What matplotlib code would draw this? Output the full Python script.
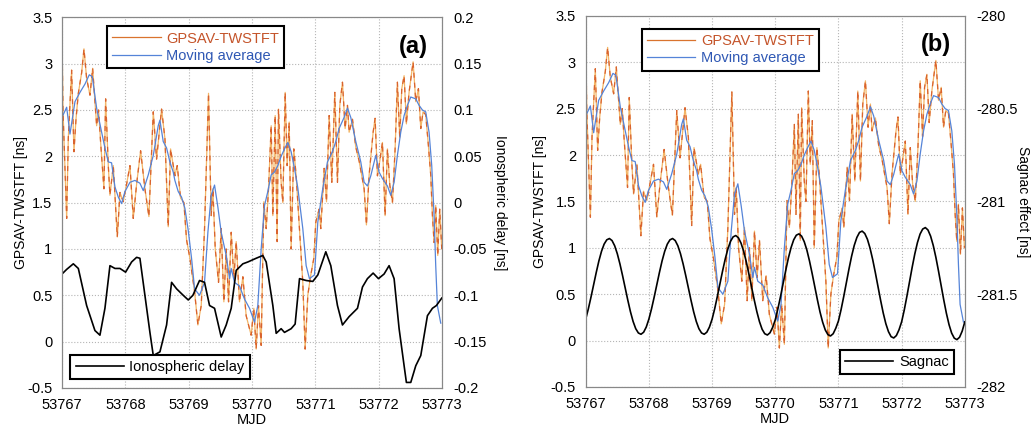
import matplotlib.pyplot as plt
import numpy as np
from matplotlib.ticker import FuncFormatter

plt.rcParams['font.family'] = ['Liberation Sans', 'DejaVu Sans']

# GPSAV - TWSTFT raw differences (ns)
raw_mjd = [53767.000, 53767.016, 53767.074, 53767.100, 53767.152, 53767.189, 53767.221, 53767.258,
           53767.310, 53767.347, 53767.389, 53767.442, 53767.484, 53767.547, 53767.578, 53767.610,
           53767.662, 53767.689, 53767.731, 53767.757, 53767.810, 53767.873, 53767.915, 53767.967,
           53768.020, 53768.073, 53768.125, 53768.178, 53768.241, 53768.309, 53768.372, 53768.441,
           53768.493, 53768.572, 53768.625, 53768.677, 53768.714, 53768.782, 53768.819, 53768.872,
           53768.924, 53768.966, 53769.019, 53769.093, 53769.145, 53769.198, 53769.250, 53769.313,
           53769.355, 53769.382, 53769.419, 53769.471, 53769.513, 53769.555, 53769.592, 53769.629,
           53769.671, 53769.713, 53769.750, 53769.802, 53769.855, 53769.907, 53769.986, 53770.028,
           53770.065, 53770.102, 53770.144, 53770.186, 53770.223, 53770.260, 53770.302, 53770.328,
           53770.365, 53770.396, 53770.417, 53770.459, 53770.486, 53770.523, 53770.554, 53770.586,
           53770.617, 53770.659, 53770.696, 53770.749, 53770.801, 53770.838, 53770.880, 53770.922,
           53770.975, 53771.006, 53771.059, 53771.085, 53771.138, 53771.175, 53771.217, 53771.259,
           53771.306, 53771.348, 53771.385, 53771.427, 53771.469, 53771.506, 53771.532, 53771.585,
           53771.637, 53771.690, 53771.769, 53771.805, 53771.848, 53771.911, 53771.942, 53771.979,
           53772.016, 53772.058, 53772.100, 53772.137, 53772.174, 53772.216, 53772.258, 53772.294,
           53772.331, 53772.363, 53772.400, 53772.436, 53772.478, 53772.542, 53772.584, 53772.626,
           53772.663, 53772.699, 53772.741, 53772.783, 53772.820, 53772.847, 53772.873, 53772.899,
           53772.931, 53772.962, 53772.994]
raw_ns = [3.30, 2.50, 1.33, 2.20, 2.93, 2.05, 2.40, 2.68,
          2.90, 3.16, 2.84, 2.66, 2.95, 2.33, 2.50, 2.15,
          1.65, 2.62, 1.90, 1.58, 1.90, 1.13, 1.61, 1.51,
          1.70, 1.90, 1.33, 1.70, 2.06, 1.65, 1.35, 2.48,
          1.97, 2.51, 2.19, 1.24, 2.08, 1.79, 1.90, 1.55,
          1.50, 1.10, 0.90, 0.54, 0.18, 0.39, 1.22, 2.68,
          1.36, 1.65, 1.00, 0.64, 1.22, 0.43, 1.00, 0.43,
          1.18, 0.68, 1.08, 0.43, 0.70, 0.28, 0.07, 0.36,
          -0.08, 0.39, -0.04, 1.51, 1.22, 1.65, 2.33, 1.36,
          2.44, 1.08, 2.51, 1.72, 1.50, 2.69, 1.90, 2.37,
          1.00, 2.08, 1.79, 1.20, 0.64, -0.08, 0.50, 0.70,
          0.90, 1.29, 1.43, 1.22, 1.87, 1.51, 2.44, 1.72,
          2.69, 1.72, 2.55, 2.80, 2.30, 2.55, 2.26, 2.40,
          2.10, 1.95, 1.65, 1.26, 1.80, 2.26, 2.41, 1.79,
          1.95, 2.15, 1.36, 2.08, 1.69, 1.50, 2.08, 2.80,
          2.20, 2.73, 2.87, 2.35, 2.69, 3.02, 2.59, 2.73,
          2.30, 2.48, 2.45, 2.12, 1.80, 1.36, 1.07, 1.47,
          0.93, 1.43, 1.00]

# moving average (ns)
avg_mjd = [53767.000, 53767.074, 53767.126, 53767.205, 53767.284, 53767.363, 53767.431, 53767.478,
           53767.547, 53767.626, 53767.678, 53767.731, 53767.783, 53767.836, 53767.889, 53767.941,
           53767.994, 53768.073, 53768.151, 53768.230, 53768.283, 53768.362, 53768.441, 53768.519,
           53768.546, 53768.598, 53768.651, 53768.703, 53768.756, 53768.782, 53768.835, 53768.887,
           53768.940, 53768.993, 53769.045, 53769.093, 53769.171, 53769.250, 53769.303, 53769.355,
           53769.408, 53769.461, 53769.513, 53769.592, 53769.645, 53769.671, 53769.723, 53769.802,
           53769.881, 53769.960, 53770.039, 53770.091, 53770.144, 53770.197, 53770.249, 53770.302,
           53770.354, 53770.407, 53770.459, 53770.512, 53770.565, 53770.617, 53770.670, 53770.722,
           53770.801, 53770.854, 53770.906, 53770.985, 53771.038, 53771.111, 53771.190, 53771.269,
           53771.322, 53771.374, 53771.453, 53771.506, 53771.558, 53771.637, 53771.716, 53771.769,
           53771.821, 53771.874, 53771.953, 53772.005, 53772.058, 53772.137, 53772.189, 53772.242,
           53772.294, 53772.347, 53772.400, 53772.452, 53772.505, 53772.584, 53772.636, 53772.689,
           53772.741, 53772.794, 53772.836, 53772.873, 53772.899, 53772.925, 53772.978]
avg_ns = [2.42, 2.53, 2.24, 2.59, 2.69, 2.78, 2.88, 2.86,
          2.52, 2.26, 2.09, 1.94, 1.93, 1.67, 1.56, 1.49,
          1.62, 1.72, 1.74, 1.71, 1.63, 1.80, 2.01, 2.33,
          2.39, 2.16, 2.09, 1.94, 1.83, 1.74, 1.62, 1.56,
          1.44, 1.20, 0.90, 0.57, 0.50, 0.64, 1.18, 1.58,
          1.69, 1.45, 1.18, 0.93, 0.68, 0.79, 0.64, 0.60,
          0.46, 0.36, 0.21, 0.39, 1.00, 1.47, 1.62, 1.80,
          1.83, 1.90, 2.00, 2.08, 2.15, 2.05, 1.87, 1.66,
          1.22, 0.82, 0.68, 0.72, 1.29, 1.63, 1.94, 2.05,
          2.16, 2.30, 2.42, 2.52, 2.42, 2.16, 1.94, 1.72,
          1.68, 1.79, 2.01, 1.83, 1.76, 1.68, 1.58, 1.72,
          2.01, 2.26, 2.44, 2.55, 2.64, 2.62, 2.55, 2.50,
          2.48, 2.26, 1.90, 1.36, 0.82, 0.39, 0.20]

# ionospheric delay (ns, right axis of panel a)
iono_mjd = [53767.000, 53767.074, 53767.179, 53767.258, 53767.389, 53767.520, 53767.599, 53767.678,
            53767.757, 53767.836, 53767.915, 53768.004, 53768.099, 53768.178, 53768.230, 53768.309,
            53768.388, 53768.441, 53768.546, 53768.651, 53768.730, 53768.809, 53768.914, 53768.993,
            53769.066, 53769.171, 53769.250, 53769.329, 53769.408, 53769.513, 53769.592, 53769.671,
            53769.750, 53769.855, 53769.934, 53770.065, 53770.170, 53770.223, 53770.328, 53770.381,
            53770.459, 53770.512, 53770.617, 53770.680, 53770.749, 53770.854, 53770.959, 53771.038,
            53771.164, 53771.243, 53771.348, 53771.427, 53771.532, 53771.664, 53771.743, 53771.821,
            53771.911, 53771.995, 53772.084, 53772.163, 53772.242, 53772.321, 53772.400, 53772.436,
            53772.505, 53772.584, 53772.663, 53772.768, 53772.847, 53772.910, 53772.994]
iono_ns = [-0.077, -0.072, -0.066, -0.071, -0.111, -0.138, -0.143, -0.114,
           -0.068, -0.071, -0.071, -0.075, -0.064, -0.059, -0.060, -0.100,
           -0.140, -0.165, -0.161, -0.132, -0.086, -0.093, -0.100, -0.105,
           -0.100, -0.084, -0.086, -0.111, -0.114, -0.145, -0.132, -0.114,
           -0.073, -0.066, -0.064, -0.060, -0.057, -0.064, -0.111, -0.141,
           -0.136, -0.140, -0.136, -0.131, -0.082, -0.084, -0.085, -0.078,
           -0.053, -0.068, -0.111, -0.132, -0.123, -0.114, -0.091, -0.082,
           -0.076, -0.082, -0.077, -0.068, -0.082, -0.136, -0.176, -0.194,
           -0.194, -0.176, -0.165, -0.122, -0.114, -0.111, -0.103]

# Sagnac effect (ns, right axis of panel b), hourly values
sagnac_ns = [
    -281.634, -281.579, -281.516, -281.449, -281.383, -281.321, -281.269, -281.230,
    -281.207, -281.200, -281.211, -281.239, -281.282, -281.337, -281.400, -281.467,
    -281.533, -281.595, -281.647, -281.686, -281.709, -281.716, -281.705, -281.677,
    -281.634, -281.579, -281.516, -281.449, -281.383, -281.321, -281.269, -281.230,
    -281.207, -281.200, -281.211, -281.239, -281.282, -281.337, -281.400, -281.467,
    -281.533, -281.595, -281.647, -281.686, -281.709, -281.716, -281.705, -281.677,
    -281.635, -281.578, -281.512, -281.443, -281.374, -281.310, -281.256, -281.215,
    -281.191, -281.184, -281.196, -281.225, -281.269, -281.326, -281.392, -281.461,
    -281.530, -281.594, -281.648, -281.689, -281.713, -281.720, -281.708, -281.679,
    -281.638, -281.579, -281.512, -281.440, -281.370, -281.304, -281.249, -281.207,
    -281.182, -281.175, -281.187, -281.217, -281.262, -281.321, -281.388, -281.460,
    -281.530, -281.596, -281.651, -281.693, -281.718, -281.725, -281.713, -281.683,
    -281.644, -281.583, -281.513, -281.438, -281.364, -281.295, -281.237, -281.194,
    -281.167, -281.160, -281.173, -281.204, -281.252, -281.313, -281.383, -281.458,
    -281.532, -281.601, -281.659, -281.702, -281.729, -281.736, -281.723, -281.692,
    -281.649, -281.585, -281.511, -281.432, -281.355, -281.283, -281.222, -281.176,
    -281.149, -281.141, -281.154, -281.187, -281.237, -281.301, -281.375, -281.454,
    -281.531, -281.603, -281.664, -281.710, -281.737, -281.745, -281.732, -281.699,
    -281.649]
sagnac_mjd = 53767 + np.arange(len(sagnac_ns)) / 24.0

mjd_ticks = [53767, 53768, 53769, 53770, 53771, 53772, 53773]
left_ticks = [-0.5, 0, 0.5, 1, 1.5, 2, 2.5, 3, 3.5]

fmt = FuncFormatter(lambda v, p: '%g' % round(v, 3))
FS = 10.5


def draw_panel(ax, right_mjd, right_ns, right_lim, right_ticks, right_label,
               right_name, tag, top_anchor, bottom_loc, bottom_anchor,
               left_lab_x, right_lab_x):
    ax.plot(raw_mjd, raw_ns, color='#f3b566', lw=0.9, label='GPSAV-TWSTFT')
    ax.plot(raw_mjd, raw_ns, color='#d9622e', lw=0.9, dashes=(4, 4))
    ax.plot(avg_mjd, avg_ns, color='#5584d8', lw=0.9, label='Moving average')
    ax.set_xlim(53767, 53773)
    ax.set_ylim(-0.5, 3.5)
    ax.set_xticks(mjd_ticks)
    ax.set_xticklabels([str(m) for m in mjd_ticks])
    ax.set_yticks(left_ticks)
    ax.yaxis.set_major_formatter(fmt)
    ax.grid(True, color='#b5b5b5', linestyle=':', linewidth=0.8)
    ax.tick_params(labelsize=FS, length=0, pad=7)
    ax.set_xlabel('MJD', fontsize=FS, labelpad=1)
    ax.set_ylabel('GPSAV-TWSTFT [ns]', fontsize=10, va='center')
    ax.yaxis.set_label_coords(left_lab_x, 0.5)
    for s in ax.spines.values():
        s.set_color('#888888')
        s.set_linewidth(0.8)
    leg = ax.legend(loc='upper left', bbox_to_anchor=top_anchor, fontsize=FS,
                    fancybox=False, framealpha=1, edgecolor='black',
                    handlelength=3.3, handletextpad=0.4, borderpad=0.35,
                    labelspacing=0.25)
    leg.get_frame().set_linewidth(1.5)
    leg.get_lines()[0].set_color('#d9732e')
    leg.get_texts()[0].set_color('#c4542a')
    leg.get_texts()[1].set_color('#2f58b4')
    ax.text(0.925, 0.922, tag, transform=ax.transAxes, fontsize=17,
            fontweight='bold', ha='center', va='center')

    ax2 = ax.twinx()
    ax2.plot(right_mjd, right_ns, color='black', lw=1.2, label=right_name)
    ax2.set_ylim(*right_lim)
    ax2.set_yticks(right_ticks)
    ax2.yaxis.set_major_formatter(fmt)
    ax2.tick_params(labelsize=FS, length=0, pad=8)
    ax2.set_ylabel(right_label, fontsize=10, rotation=270, va='center')
    ax2.yaxis.set_label_coords(right_lab_x, 0.5)
    for s in ax2.spines.values():
        s.set_color('#888888')
        s.set_linewidth(0.8)
    leg2 = ax2.legend(loc=bottom_loc, bbox_to_anchor=bottom_anchor, fontsize=FS,
                      fancybox=False, framealpha=1, edgecolor='black',
                      handlelength=3.3, handletextpad=0.4, borderpad=0.35)
    leg2.get_frame().set_linewidth(1.5)


fig = plt.figure(figsize=(10.33, 4.29), dpi=100)
ax_a = fig.add_axes([0.060, 0.0956, 0.368, 0.864])
ax_b = fig.add_axes([0.567, 0.098, 0.367, 0.865])

draw_panel(ax_a, iono_mjd, iono_ns, (-0.2, 0.2),
           [-0.2, -0.15, -0.1, -0.05, 0, 0.05, 0.1, 0.15, 0.2],
           'Ionospheric delay [ns]', 'Ionospheric delay', '(a)',
           (0.1, 0.995), 'lower left', (0.003, 0.005), -0.108, 1.152)
draw_panel(ax_b, sagnac_mjd, sagnac_ns, (-282, -280),
           [-282, -281.5, -281, -280.5, -280],
           'Sagnac effect [ns]', 'Sagnac', '(b)',
           (0.129, 0.985), 'lower right', (0.99, 0.015), -0.121, 1.153)

fig.savefig('out.png', dpi=100)
